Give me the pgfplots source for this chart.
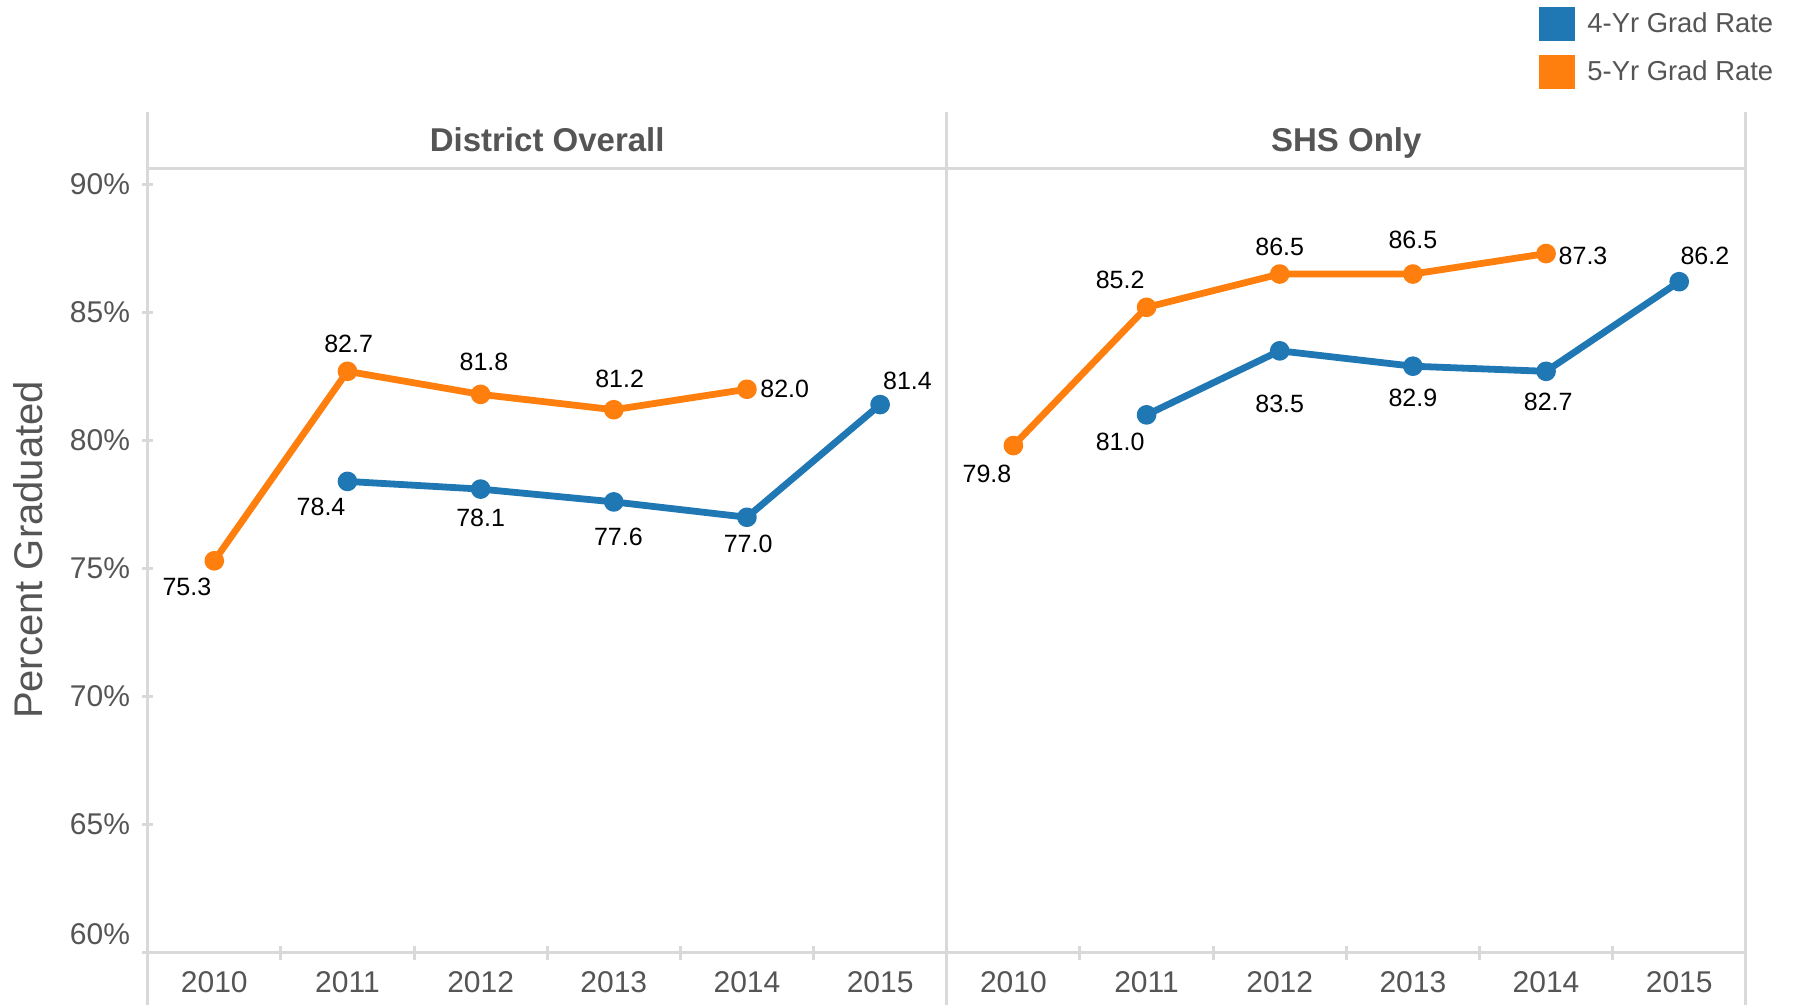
\documentclass[border=0pt]{standalone}
\usepackage{pgfplots}
\pgfplotsset{compat=1.18}
\usepackage{fontspec}
\setmainfont{Liberation Sans}
\definecolor{tblue}{HTML}{1F77B4}
\definecolor{torange}{HTML}{FF7F0E}
\definecolor{gridgrey}{HTML}{D9D9D9}
\definecolor{txtgrey}{HTML}{555555}

\pgfplotsset{
 panel/.style={
  scale only axis, width=399.5pt, height=392.1pt,
  xmin=-0.5, xmax=5.5, ymin=60, ymax=90.63,
  clip=false,
  xtick={0,...,5}, xticklabels={2010,2011,2012,2013,2014,2015},
  minor x tick num=1,
  tick align=outside,
  major x tick style={draw=none},
  minor x tick style={draw=gridgrey, line width=1.5pt},
  minor tick length=7pt,
  major tick length=5.5pt,
  y tick style={draw=gridgrey, line width=1.5pt},
  axis x line=bottom,
  axis line style={draw=gridgrey, line width=1.5pt, -},
  every outer x axis line/.append style={-},
  every outer y axis line/.append style={-},
  xticklabel style={font=\fontsize{15}{18}\selectfont, text=txtgrey, yshift=-3.4pt},
  yticklabel style={font=\fontsize{15}{18}\selectfont, text=txtgrey, anchor=east, inner sep=0pt, xshift=-5.9pt},
  /pgf/number format/assume math mode=true,
  every axis plot/.append style={line width=3.4pt, line join=round, mark=*, mark size=3.2pt, mark options={solid, draw=none}},
  nodes near coords={\pgfmathprintnumber[fixed,fixed zerofill,precision=1]{\pgfplotspointmeta}},
  point meta=y,
  visualization depends on={\thisrow{dx} \as \dx},
  visualization depends on={\thisrow{dy} \as \dy},
  every node near coord/.style={anchor=center, xshift=\dx pt, yshift=\dy pt, font=\fontsize{12.5}{15}\selectfont, text=black, inner sep=0pt},
 },
}

\begin{document}
\begin{tikzpicture}
\path[use as bounding box] (0,0) rectangle (897.5pt,-502.5pt);

% Left panel: District Overall
\begin{axis}[panel, at={(73.85pt,-476.25pt)}, anchor=south west,
  axis y line=left,
  y axis line style={-},
  x axis line style={-},
  ytick={65,70,75,80,85,90},
  yticklabel={\pgfmathprintnumber{\tick}\%},
  extra y ticks={60}, extra y tick labels={60\%},
  extra y tick style={yticklabel style={yshift=9.2pt}},
]
\addplot[color=torange] table {
x y dx dy
0 75.3 -13.7 -13.2
1 82.7 0.6 13.7
2 81.8 1.7 16
3 81.2 2.9 15.4
4 82.0 18.9 0
};
\addplot[color=tblue] table {
x y dx dy
1 78.4 -13.2 -12.6
2 78.1 0 -14.3
3 77.6 2.3 -17.7
4 77.0 0.6 -13.2
5 81.4 13.7 12
};
\end{axis}

% Right panel: SHS Only
\begin{axis}[panel, at={(473.4pt,-476.25pt)}, anchor=south west,
  axis y line=none, ytick=\empty,
  x axis line style={-},
]
\addplot[color=torange] table {
x y dx dy
0 79.8 -13.2 -14.3
1 85.2 -13.2 13.7
2 86.5 0 13.7
3 86.5 0 17.2
4 87.3 18.5 -1
};
\addplot[color=tblue] table {
x y dx dy
1 81.0 -13.2 -13.7
2 83.5 0 -26.3
3 82.9 0 -16
4 82.7 1.1 -15.4
5 86.2 12.8 12.8
};
\end{axis}

% panel frame
\draw[gridgrey, line width=1.5pt] (73.85pt,-84.15pt) -- (872.9pt,-84.15pt);
\foreach \xx in {73.85,473.4,872.9}
  \draw[gridgrey, line width=1.5pt] (\xx pt,-56pt) -- (\xx pt,-502.5pt);

% panel headers
\node[anchor=base, inner sep=0pt, font=\bfseries\fontsize{16.5}{20}\selectfont, text=txtgrey] at (273.6pt,-75.8pt) {District Overall};
\node[anchor=base, inner sep=0pt, font=\bfseries\fontsize{16.5}{20}\selectfont, text=txtgrey] at (673.15pt,-75.8pt) {SHS Only};

% y label
\node[rotate=90, inner sep=0pt, font=\fontsize{20}{24}\selectfont, text=txtgrey] at (14pt,-275pt) {Percent Graduated};

% legend
\fill[tblue] (769.5pt,-3.35pt) rectangle (787.5pt,-20.5pt);
\fill[torange] (769.5pt,-27.5pt) rectangle (787.5pt,-44.5pt);
\node[anchor=base west, inner sep=0pt, font=\fontsize{13.7}{16}\selectfont, text=txtgrey] at (793.5pt,-16.35pt) {4-Yr Grad Rate};
\node[anchor=base west, inner sep=0pt, font=\fontsize{13.7}{16}\selectfont, text=txtgrey] at (793.5pt,-40.5pt) {5-Yr Grad Rate};
\end{tikzpicture}
\end{document}
